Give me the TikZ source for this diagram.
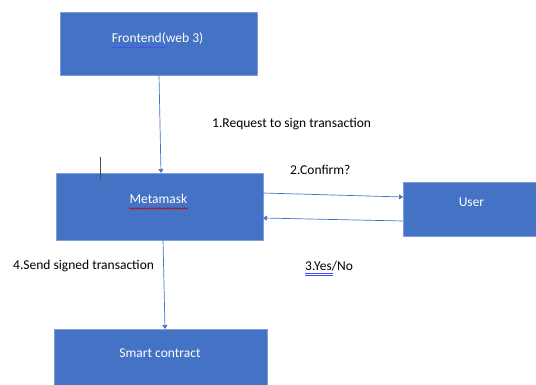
\documentclass[tikz,border=0pt]{standalone}
\usepackage{fontspec}
\setmainfont{Carlito}
\usetikzlibrary{arrows.meta,decorations.pathmorphing}
\definecolor{boxblue}{HTML}{4472C4}
\definecolor{boxedge}{HTML}{7F9FD8}
\definecolor{arrowblue}{HTML}{4472C4}
\tikzset{
  blockbox/.style={draw=boxedge,line width=0.8pt,fill=boxblue},
  boxtext/.style={text=white,font=\fontsize{13.5}{15}\selectfont,inner sep=0pt},
  flow/.style={draw=arrowblue,line width=0.7pt,-{Triangle[width=5pt,length=4pt]}},
  lbl/.style={font=\fontsize{13.5}{15}\selectfont,text=black,inner sep=0pt,anchor=west},
}
\begin{document}
\begin{tikzpicture}[x=1pt,y=-1pt]
\useasboundingbox (0,0) rectangle (536,385);
% boxes
\path[blockbox] (60,12) rectangle (257,75);
\node[boxtext] (fe) at (157.5,39) {Frontend(web 3)};
\path[blockbox] (56,173) rectangle (263,240);
\node[boxtext] (mm) at (158.5,199) {Metamask};
\path[blockbox] (403,182) rectangle (540,236);
\node[boxtext] (us) at (471.5,202) {User};
\path[blockbox] (54,329) rectangle (267,390);
\node[boxtext] (sc) at (160,353) {Smart contract};
% named anchor points
\coordinate (feB) at (159,75);
\coordinate (mmT) at (161,173);
\coordinate (mmR1) at (263,193);
\coordinate (usL1) at (403,197);
\coordinate (usL2) at (403,221);
\coordinate (mmR2) at (263,218);
\coordinate (mmB) at (163,240);
\coordinate (scT) at (165,329);
% connectors
\draw[flow] (feB) -- (mmT);
\draw[flow] (mmR1) -- (usL1);
\draw[flow] (usL2) -- (mmR2);
\draw[flow] (mmB) -- (scT);
% labels
\node[lbl] (l1) at (212,124) {1.Request to sign transaction};
\node[lbl] (l2) at (290,170) {2.Confirm?};
\node[lbl] (l4) at (13,266) {4.Send signed transaction};
\node[lbl] (l3) at (305,266) {3.Yes/No};
% spell-check marks and cursor
\draw[blue!70!white,line width=0.5pt] (112,47.5) -- (165,47.5);
\draw[red!80!black,line width=0.5pt,decorate,decoration={zigzag,amplitude=0.8pt,segment length=2.5pt}] (129,208.5) -- (188,208.5);
\draw[blue!70!white,line width=0.4pt] (305,273.5) -- (333,273.5);
\draw[blue!70!white,line width=0.4pt] (305,275.5) -- (333,275.5);
\draw[black!70,line width=0.6pt] (100,157) -- (100,180);
\end{tikzpicture}
\end{document}
